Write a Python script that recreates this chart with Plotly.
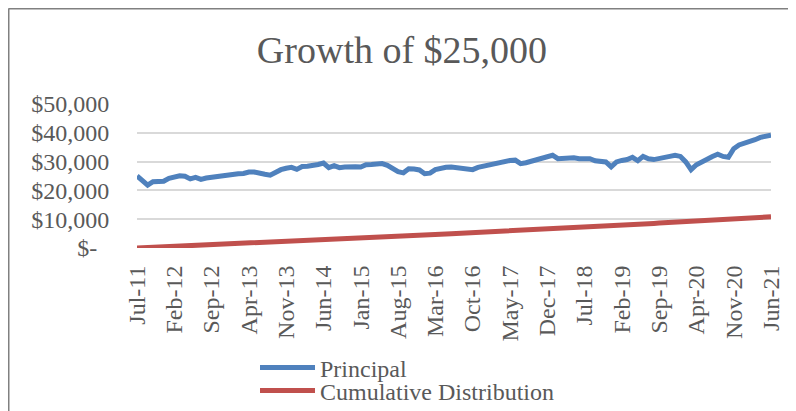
import pandas as pd
import plotly.graph_objects as go

months = [d.strftime("%b-%y") for d in pd.date_range("2011-07-01", "2021-06-01", freq="MS")]

principal = [
    25000, 23500, 21800, 23000, 23300, 23200, 24200, 24700, 25100, 24900, 24000, 24500,
    23800, 24300, 24600, 24700, 24800, 25100, 25600, 25800, 25900, 26400, 26400, 26200,
    25600, 25300, 26400, 27200, 27700, 28000, 27300, 28300, 28400, 28600, 29000, 29500,
    27900, 28600, 27900, 28100, 28300, 28200, 28100, 28900, 29000, 29200, 29300, 28700,
    27400, 26500, 26100, 27500, 27400, 27100, 25800, 26000, 27200, 27700, 28000, 28100,
    27900, 27800, 27500, 27200, 28000, 28400, 28800, 29400, 29700, 30100, 30400, 30500,
    29300, 29600, 30100, 30600, 31000, 31600, 32200, 31000, 31100, 31300, 31300, 31000,
    31000, 31000, 30300, 30300, 29900, 28200, 29900, 30400, 30700, 31500, 30300, 31800,
    31000, 30700, 31200, 31300, 31800, 32200, 31800, 29900, 27200, 28900, 30000, 30900,
    31800, 32600, 31800, 31500, 34500, 35800, 36300, 36900, 37600, 38400, 38800, 39200,
]

cumulative_distribution = [
    0, 76, 152, 228, 304, 380, 456, 532, 608, 684, 760, 836, 912,
    992, 1072, 1152, 1232, 1312, 1392, 1472, 1552, 1632, 1712, 1792, 1872,
    1960, 2048, 2136, 2224, 2312, 2400, 2488, 2576, 2664, 2752, 2840, 2928,
    3018, 3108, 3198, 3288, 3378, 3468, 3558, 3648, 3738, 3828, 3918, 4008,
    4093, 4178, 4263, 4348, 4433, 4518, 4603, 4688, 4773, 4858, 4943, 5028,
    5119, 5210, 5301, 5392, 5483, 5574, 5665, 5756, 5847, 5938, 6029, 6120,
    6218, 6316, 6414, 6512, 6610, 6708, 6806, 6904, 7002, 7100, 7198, 7296,
    7392, 7488, 7584, 7680, 7776, 7872, 7968, 8064, 8160, 8256, 8352, 8448,
    8545, 8642, 8739, 8836, 8933, 9030, 9127, 9224, 9321, 9418, 9515, 9612,
    9724, 9836, 9948, 10060, 10172, 10284, 10396, 10508, 10620, 10732, 10844,
]

x_tick_labels = ["Jul-11", "Feb-12", "Sep-12", "Apr-13", "Nov-13", "Jun-14", "Jan-15",
                 "Aug-15", "Mar-16", "Oct-16", "May-17", "Dec-17", "Jul-18", "Feb-19",
                 "Sep-19", "Apr-20", "Nov-20", "Jun-21"]
y_tick_values = [0, 10000, 20000, 30000, 40000, 50000]
y_tick_labels = ["$-\u00a0\u00a0", "$10,000", "$20,000", "$30,000", "$40,000", "$50,000"]

FONT = "Liberation Serif, Times New Roman, serif"
TXT = "#595959"
FS = 24

fig = go.Figure()
fig.add_trace(go.Scatter(x=months, y=principal, mode="lines", name="Principal",
                         line=dict(color="#4F81BD", width=5), legend="legend"))
fig.add_trace(go.Scatter(x=months, y=cumulative_distribution, mode="lines",
                         name="Cumulative Distribution",
                         line=dict(color="#C0504D", width=5), legend="legend2"))

# page body has an 8px margin, so the figure is laid out in coordinates offset by 8px
OFF = 8
W, H = 796 - OFF, 411 - OFF
PL, PR, PT, PB = 137 - OFF, 771 - OFF, 104 - OFF, 248 - OFF
L, R, T, B = PL, W - PR, PT, H - PB
pw, ph = PR - PL, PB - PT

def px(x):
    return (x - OFF - PL) / pw

def py(y):
    return (PB - (y - OFF)) / ph

def legend_at(cy):
    return dict(x=px(255), xanchor="left", y=py(cy), yanchor="middle",
                font=dict(family=FONT, size=FS, color=TXT),
                bgcolor="rgba(0,0,0,0)", itemwidth=55)

fig.update_layout(
    width=W, height=H,
    margin=dict(l=L, r=R, t=T, b=B, autoexpand=False),
    paper_bgcolor="white", plot_bgcolor="white",
    font=dict(family=FONT, color=TXT, size=FS),
    title=dict(text="Growth of $25,000", x=0.5, xanchor="center",
               y=1 - (50 - OFF) / H, yanchor="middle",
               font=dict(family=FONT, size=38, color=TXT)),
    showlegend=True,
    legend=legend_at(368),
    legend2=legend_at(391),
    xaxis=dict(type="category", range=[0, len(months) - 1], automargin=False,
               tickmode="array", tickvals=x_tick_labels, ticktext=x_tick_labels,
               tickangle=-90, showgrid=False, zeroline=False, showline=False,
               ticks="outside", ticklen=7, tickcolor="rgba(0,0,0,0)",
               tickfont=dict(family=FONT, size=FS, color=TXT)),
    yaxis=dict(range=[0, 50000], tickmode="array", tickvals=y_tick_values,
               ticktext=y_tick_labels, showgrid=True, gridcolor="#D9D9D9",
               gridwidth=1.5, zeroline=False, showline=False, automargin=False,
               ticks="outside", ticklen=22, tickcolor="rgba(0,0,0,0)",
               tickfont=dict(family=FONT, size=FS, color=TXT)),
    shapes=[
        dict(type="line", xref="paper", yref="paper",
             x0=px(8.5), x1=px(8.5), y0=py(8.5), y1=py(430),
             line=dict(color="#808080", width=2)),
        dict(type="line", xref="paper", yref="paper",
             x0=px(8.5), x1=px(810), y0=py(8.5), y1=py(8.5),
             line=dict(color="#808080", width=2)),
    ],
)

fig.write_html("out.html")
